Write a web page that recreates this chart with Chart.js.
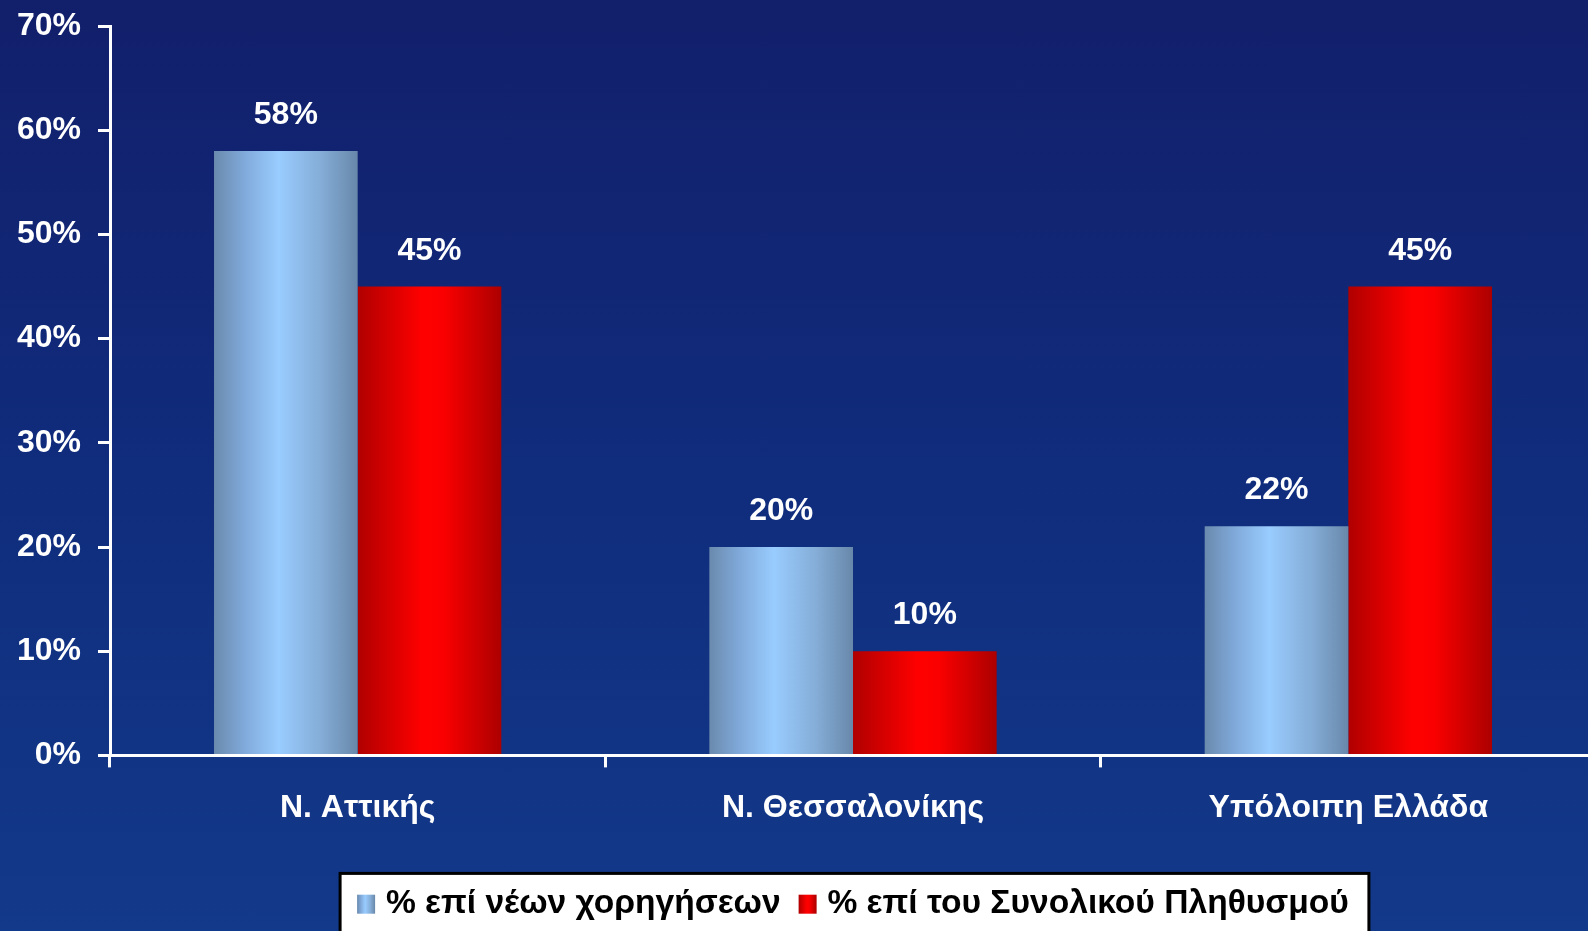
<!DOCTYPE html>
<html>
<head>
<meta charset="utf-8">
<script src="https://cdn.jsdelivr.net/npm/chart.js@4.4.0/dist/chart.umd.min.js"></script>
<style>
    html, body { margin: 0; padding: 0; }
    body {
        width: 1588px;
        height: 931px;
        overflow: hidden;
        background: linear-gradient(to bottom, #121f6b 0%, #102c7c 50%, #13398a 100%);
    }
    /* plot runs a little past the right edge, as in the original slide */
    #wrap { position: relative; width: 1596px; height: 931px; }
</style>
</head>
<body>
<div id="wrap"><canvas id="chart"></canvas></div>
<script>
// Chart data
const categories = ['Ν. Αττικής', 'Ν. Θεσσαλονίκης', 'Υπόλοιπη Ελλάδα'];
const seriesNames = ['% επί νέων χορηγήσεων', '% επί του Συνολικού Πληθυσμού'];
const newLoans = [58, 20, 22];
const population = [45, 10, 45];
const yTicks = [0, 10, 20, 30, 40, 50, 60, 70];

const FONT = '"Liberation Sans", Arial, sans-serif';
const CAT_PCT = 0.58;

const blueStops = [[0, '#6a8aad'], [0.2, '#7fa8d8'], [0.45, '#99ccff'], [0.75, '#84acd6'], [1, '#6888aa']];
const redStops = [[0, '#b00000'], [0.45, '#ff0000'], [0.6, '#fa0000'], [1, '#ac0000']];
const seriesStops = [blueStops, redStops];

function hGradient(ctx, left, width, stops) {
    const g = ctx.createLinearGradient(left, 0, left + width, 0);
    stops.forEach(s => g.addColorStop(s[0], s[1]));
    return g;
}

// horizontal "cylinder" shading for each bar, worked out from the x scale
function barGradient(stops, fallback) {
    return (ctx) => {
        const chart = ctx.chart;
        const xs = chart.scales.x;
        if (!xs || ctx.dataIndex === undefined || !xs.width) return fallback;
        const cat = xs.width / categories.length;
        const w = cat * CAT_PCT / 2;
        const left = xs.getPixelForValue(ctx.dataIndex) - cat * CAT_PCT / 2 + ctx.datasetIndex * w;
        return hGradient(chart.ctx, left, w, stops);
    };
}

// value labels above bars
const valueLabels = {
    id: 'valueLabels',
    afterDatasetsDraw(chart) {
        const ctx = chart.ctx;
        ctx.save();
        ctx.fillStyle = '#ffffff';
        ctx.font = 'bold 32px ' + FONT;
        ctx.textAlign = 'center';
        ctx.textBaseline = 'alphabetic';
        chart.data.datasets.forEach((ds, di) => {
            chart.getDatasetMeta(di).data.forEach((el, i) => {
                ctx.fillText(ds.data[i] + '%', el.x, el.y - 27);
            });
        });
        ctx.restore();
    }
};

// white box with black frame behind the legend, plus shaded legend squares
const legendBox = {
    id: 'legendBox',
    beforeDraw(chart) {
        const lg = chart.legend;
        if (!lg || !lg.legendHitBoxes || !lg.legendHitBoxes.length) return;
        const boxes = lg.legendHitBoxes;
        const left = boxes[0].left - 17;
        const right = boxes[boxes.length - 1].left + boxes[boxes.length - 1].width + 20;
        const top = boxes[0].top - 14;
        const ctx = chart.ctx;
        ctx.save();
        ctx.fillStyle = '#ffffff';
        ctx.fillRect(left, top, right - left, chart.height - top + 10);
        ctx.strokeStyle = '#000000';
        ctx.lineWidth = 3;
        ctx.strokeRect(left, top, right - left, chart.height - top + 10);
        ctx.restore();
    },
    afterDraw(chart) {
        const lg = chart.legend;
        if (!lg || !lg.legendHitBoxes) return;
        const ctx = chart.ctx;
        ctx.save();
        lg.legendHitBoxes.forEach((b, i) => {
            const size = 18;
            const y = b.top + (b.height - 19) / 2;
            ctx.fillStyle = hGradient(ctx, b.left, size, seriesStops[i]);
            ctx.fillRect(b.left, y, size, 19);
        });
        ctx.restore();
    }
};

new Chart(document.getElementById('chart'), {
    type: 'bar',
    data: {
        labels: categories,
        datasets: [
            {
                label: seriesNames[0],
                data: newLoans,
                backgroundColor: barGradient(blueStops, '#8bb6e6'),
                categoryPercentage: CAT_PCT,
                barPercentage: 1.0
            },
            {
                label: seriesNames[1],
                data: population,
                backgroundColor: barGradient(redStops, '#e00000'),
                categoryPercentage: CAT_PCT,
                barPercentage: 1.0
            }
        ]
    },
    options: {
        responsive: true,
        maintainAspectRatio: false,
        animation: false,
        layout: { padding: { top: 26, right: 0, bottom: 0, left: 0 } },
        plugins: {
            tooltip: { enabled: false },
            legend: {
                position: 'bottom',
                fullSize: false,
                labels: {
                    color: '#000000',
                    font: { family: FONT, size: 33.6, weight: 'bold' },
                    boxWidth: 12,
                    boxHeight: 19,
                    padding: 18,
                    generateLabels(chart) {
                        return chart.data.datasets.map((ds, i) => ({
                            text: ds.label,
                            fillStyle: 'rgba(0,0,0,0)',
                            strokeStyle: 'rgba(0,0,0,0)',
                            lineWidth: 0,
                            fontColor: '#000000',
                            hidden: false,
                            datasetIndex: i
                        }));
                    }
                }
            }
        },
        scales: {
            x: {
                grid: {
                    display: true,
                    drawOnChartArea: false,
                    drawTicks: true,
                    tickLength: 12,
                    color: '#ffffff',
                    lineWidth: 3
                },
                border: { display: true, color: '#ffffff', width: 3 },
                ticks: {
                    color: '#ffffff',
                    font: { family: FONT, size: 32, weight: 'bold' },
                    padding: 22
                },
                afterFit(scale) { scale.height = 114; }
            },
            y: {
                min: 0,
                max: 70,
                afterBuildTicks(scale) {
                    scale.ticks = yTicks.map(v => ({ value: v }));
                },
                grid: {
                    display: true,
                    drawOnChartArea: false,
                    drawTicks: true,
                    tickLength: 12,
                    color: '#ffffff',
                    lineWidth: 3
                },
                border: { display: true, color: '#ffffff', width: 3 },
                ticks: {
                    color: '#ffffff',
                    font: { family: FONT, size: 32, weight: 'bold' },
                    padding: 17,
                    callback: (v) => v + '%'
                },
                afterFit(scale) {
                    scale.width = 110;
                    scale.paddingTop = 0;
                    scale.paddingBottom = 0;
                }
            }
        }
    },
    plugins: [legendBox, valueLabels]
});
</script>
</body>
</html>
